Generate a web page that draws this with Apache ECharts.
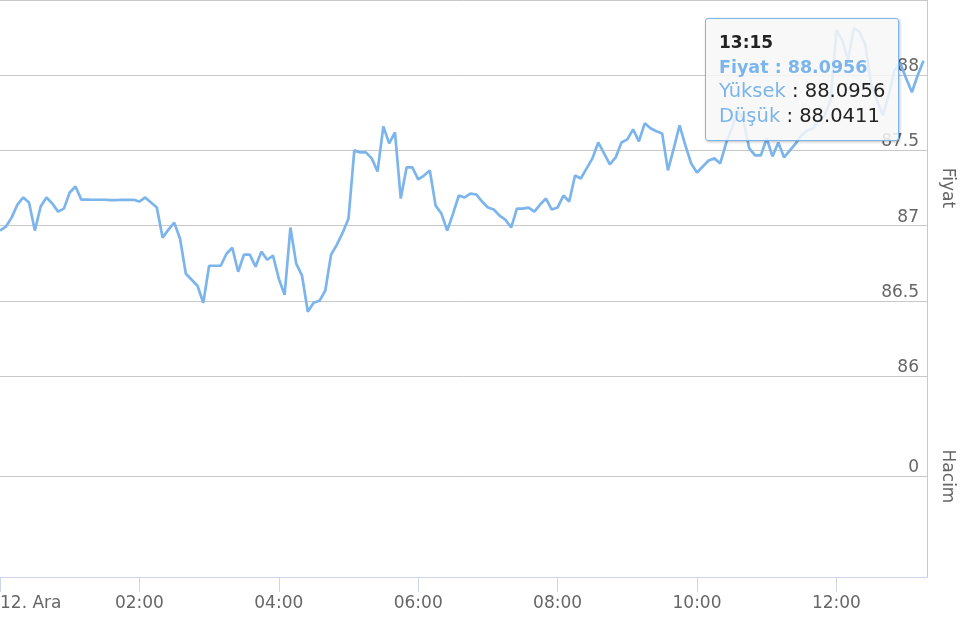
<!DOCTYPE html>
<html><head><meta charset="utf-8">
<script src="https://cdn.jsdelivr.net/npm/echarts@6/dist/echarts.min.js"></script>
<style>html,body{margin:0;padding:0;background:#fff;overflow:hidden}#c{width:960px;height:618px}</style>
</head><body><div id="c"></div>
<script>
// Price (Fiyat) every 5 minutes from 00:00 (12. Ara) to 13:15
const priceValues = [
  86.967, 86.993, 87.053, 87.140, 87.187, 87.153, 86.967, 87.127, 87.187, 87.147,
  87.093, 87.113, 87.220, 87.260, 87.173, 87.173, 87.172, 87.172, 87.172, 87.170,
  87.170, 87.172, 87.171, 87.172, 87.160, 87.187, 87.153, 87.120, 86.920, 86.973,
  87.020, 86.913, 86.680, 86.640, 86.600, 86.487, 86.733, 86.733, 86.733, 86.813,
  86.853, 86.693, 86.807, 86.807, 86.727, 86.827, 86.773, 86.800, 86.647, 86.540,
  86.987, 86.747, 86.667, 86.427, 86.487, 86.500, 86.567, 86.807, 86.873, 86.953,
  87.047, 87.500, 87.487, 87.487, 87.447, 87.360, 87.660, 87.547, 87.620, 87.180,
  87.387, 87.387, 87.307, 87.333, 87.367, 87.133, 87.080, 86.967, 87.080, 87.200,
  87.187, 87.213, 87.207, 87.160, 87.120, 87.107, 87.067, 87.040, 86.987, 87.113,
  87.113, 87.120, 87.093, 87.140, 87.180, 87.107, 87.120, 87.200, 87.160, 87.333,
  87.313, 87.380, 87.447, 87.553, 87.480, 87.407, 87.453, 87.553, 87.573, 87.640,
  87.560, 87.680, 87.647, 87.627, 87.613, 87.367, 87.513, 87.667, 87.533, 87.413,
  87.353, 87.393, 87.433, 87.447, 87.413, 87.547, 87.647, 87.767, 87.700, 87.513,
  87.467, 87.467, 87.580, 87.460, 87.553, 87.453, 87.500, 87.547, 87.600, 87.633,
  87.647, 87.700, 87.733, 87.833, 88.300, 88.233, 88.100, 88.313, 88.287, 88.200,
  87.933, 87.833, 87.733, 87.867, 88.033, 88.080, 87.980, 87.887, 88.000, 88.0956
];
const stepMinutes = 5;
const xTickMinutes = [0, 120, 240, 360, 480, 600, 720];
const xTickLabels = ['12. Ara', '02:00', '04:00', '06:00', '08:00', '10:00', '12:00'];
const priceAxisMin = 86, priceAxisMax = 88.5, priceAxisStep = 0.5;
const volumeAxisMin = -1, volumeAxisMax = 1;
const xAxisMax = 798;
const tooltipTime = '13:15';
const tooltipHigh = 88.0956;
const tooltipLow = 88.0411;

const FONT = 'DejaVu Sans';
const LINE = '#7cb5ec';
const GRID = '#c8c8c8';

const seriesData = priceValues.map((v, i) => [i * stepMinutes, v]);

const chart = echarts.init(document.getElementById('c'), null, {renderer: 'canvas'});
const option = {
  animation: false,
  backgroundColor: '#ffffff',
  grid: [
    {left: 0, right: 33, top: 0, height: 376, outerBoundsMode: 'none', containLabel: false},
    {left: 0, right: 33, top: 376, height: 201, outerBoundsMode: 'none', containLabel: false}
  ],
  xAxis: [
    {type: 'value', gridIndex: 0, min: 0, max: xAxisMax, show: false, splitLine: {show: false}},
    {type: 'value', gridIndex: 1, min: 0, max: xAxisMax, interval: 120,
      axisLine: {show: true, onZero: false, lineStyle: {color: '#ccd6eb', width: 1}},
      axisTick: {show: true, length: 15, lineStyle: {color: '#ccd6eb'}, customValues: xTickMinutes},
      splitLine: {show: false},
      axisLabel: {
        customValues: xTickMinutes,
        hideOverlap: false,
        alignMinLabel: 'left',
        margin: 18,
        color: '#666666', fontFamily: FONT, fontSize: 17,
        formatter: v => { const k = xTickMinutes.indexOf(v); return k >= 0 ? xTickLabels[k] : ''; }
      }
    }
  ],
  yAxis: [
    {type: 'value', gridIndex: 0, position: 'right', min: priceAxisMin, max: priceAxisMax, interval: priceAxisStep,
      name: 'Fiyat', nameLocation: 'middle', nameRotate: -90, nameGap: 12,
      nameTextStyle: {color: '#666666', fontFamily: FONT, fontSize: 17},
      axisLine: {show: true, onZero: false, lineStyle: {color: GRID}},
      axisTick: {show: false},
      splitLine: {show: true, lineStyle: {color: GRID, width: 1}},
      axisLabel: {inside: true, margin: 8, showMaxLabel: false, verticalAlign: 'bottom', padding: [0, 0, 0, 0],
        color: '#666666', fontFamily: FONT, fontSize: 17}
    },
    {type: 'value', gridIndex: 1, position: 'right', min: volumeAxisMin, max: volumeAxisMax, interval: 1,
      name: 'Hacim', nameLocation: 'middle', nameRotate: -90, nameGap: 12,
      nameTextStyle: {color: '#666666', fontFamily: FONT, fontSize: 17},
      axisLine: {show: true, onZero: false, lineStyle: {color: GRID}},
      axisTick: {show: false},
      splitLine: {show: true, showMinLine: false, showMaxLine: false, lineStyle: {color: GRID, width: 1}},
      axisLabel: {inside: true, margin: 8, verticalAlign: 'bottom', padding: [0, 0, 0, 0],
        color: '#666666', fontFamily: FONT, fontSize: 17,
        formatter: v => (v === 0 ? '0' : '')}
    }
  ],
  tooltip: {
    trigger: 'axis',
    axisPointer: {type: 'none'},
    triggerOn: 'none',
    alwaysShowContent: true,
    transitionDuration: 0,
    position: [705, 18],
    backgroundColor: 'rgba(247,247,247,0.85)',
    borderColor: LINE,
    borderWidth: 1,
    borderRadius: 3,
    padding: [11, 13],
    extraCssText: 'box-shadow: 1px 1px 3px rgba(0,0,0,0.25);',
    formatter: params => {
      const p = Array.isArray(params) ? params[0] : params;
      const st = 'font-family:' + FONT + ';font-size:19.5px;line-height:24.7px;white-space:nowrap;';
      return '<div style="' + st + 'color:#222;font-weight:bold;font-size:17px">' + tooltipTime + '</div>' +
        '<div style="' + st + 'color:' + LINE + ';font-weight:bold;font-size:17.5px">Fiyat : ' + p.value[1].toFixed(4) + '</div>' +
        '<div style="' + st + 'color:#222"><span style="color:' + LINE + '">Yüksek</span> : ' + tooltipHigh.toFixed(4) + '</div>' +
        '<div style="' + st + 'color:#222"><span style="color:' + LINE + '">Düşük</span> : ' + tooltipLow.toFixed(4) + '</div>';
    }
  },
  series: [
    {type: 'line', name: 'Fiyat', xAxisIndex: 0, yAxisIndex: 0, data: seriesData,
      showSymbol: false, symbol: 'none', lineStyle: {color: LINE, width: 2.7}, itemStyle: {color: LINE},
      emphasis: {disabled: true}}
  ]
};
chart.setOption(option);
function showTip() {
  chart.dispatchAction({type: 'showTip', seriesIndex: 0, dataIndex: priceValues.length - 1});
}
showTip();
setTimeout(showTip, 50);
</script>
</body></html>
